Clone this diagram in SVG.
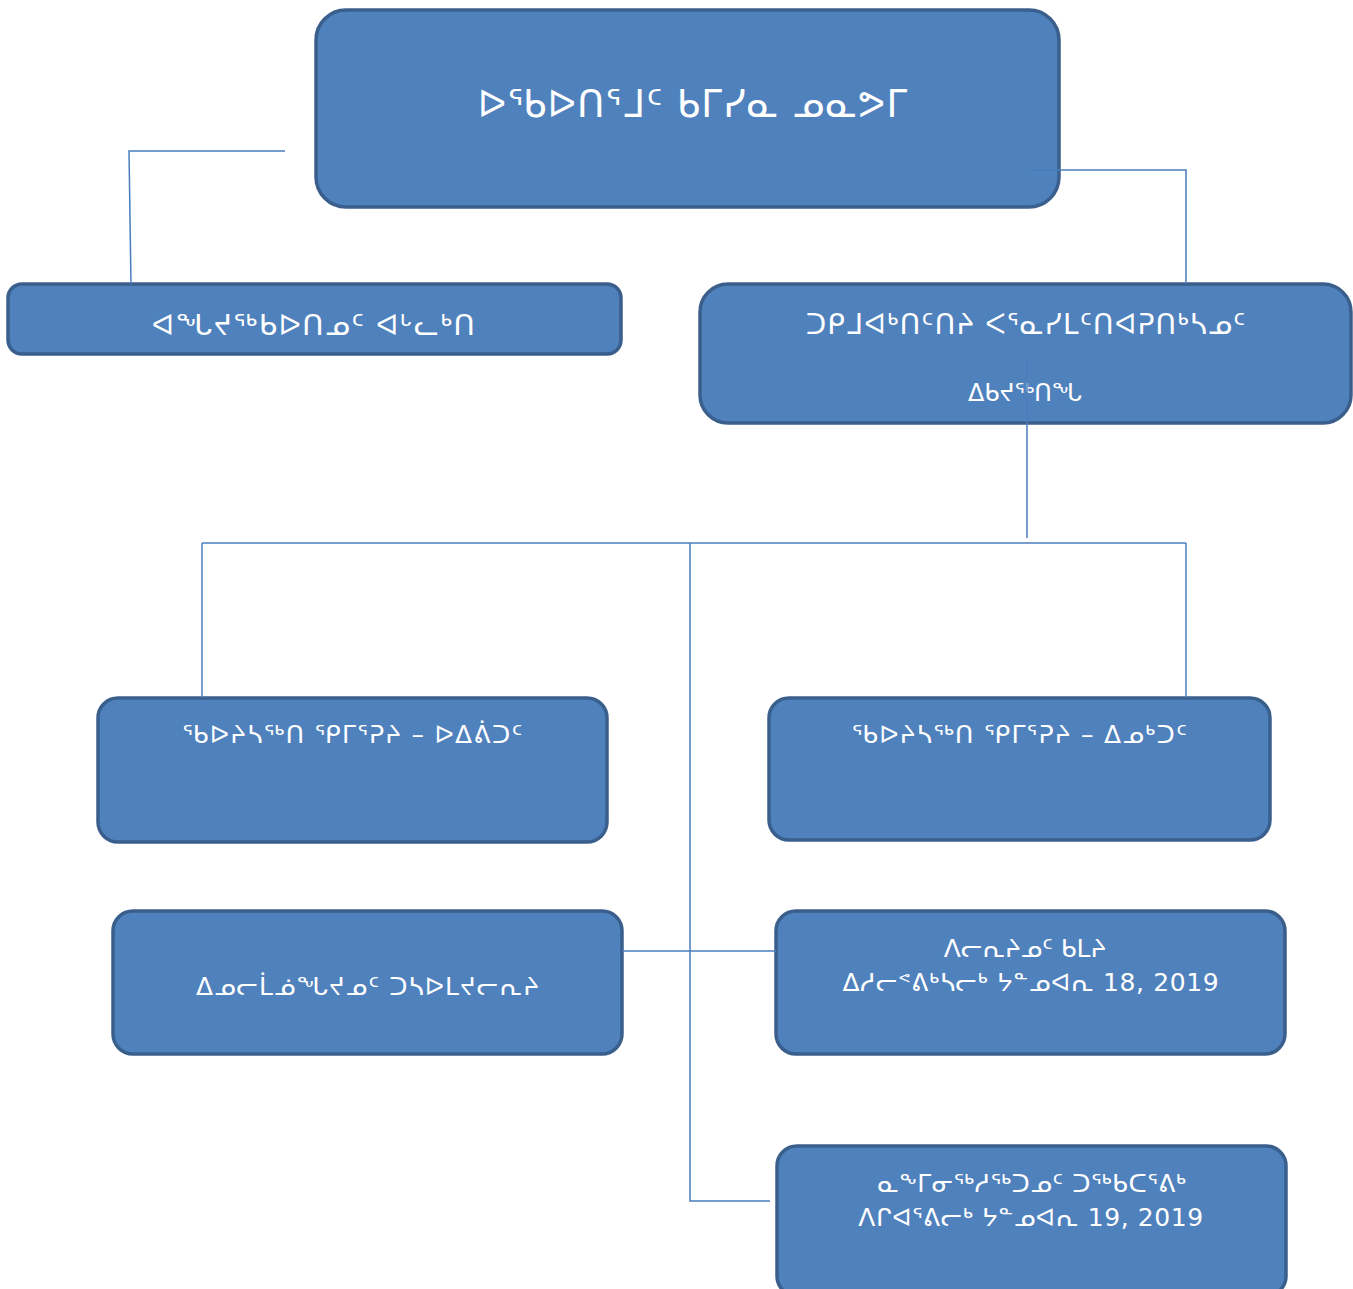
<svg xmlns="http://www.w3.org/2000/svg" width="1353" height="1289" viewBox="0 0 1353 1289">
<style>
.box{fill:#4F81BD;stroke:#3A5F8C;stroke-width:3.5}
.t{font-family:"DejaVu Sans","Liberation Sans",sans-serif;fill:#FFFFFF;text-anchor:middle}
.ln{fill:none;stroke:#4A7EBB;stroke-width:1.5}
</style>
<rect width="1353" height="1289" fill="#FFFFFF"/>
<g id="node-top">
<rect class="box" x="316" y="10" width="743" height="197" rx="30"/>
<text class="t" x="693" y="117" font-size="37" letter-spacing="1.3">ᐅᖃᐅᑎᕐᒧᑦ ᑲᒥᓯᓇ ᓄᓇᕗᒥ</text>
</g>
<g id="node-a">
<rect class="box" x="8" y="284" width="613" height="70" rx="14"/>
<text class="t" x="314" y="335" font-size="29" letter-spacing="1.5">ᐊᖓᔪᖅᑲᐅᑎᓄᑦ ᐊᒡᓚᒃᑎ</text>
</g>
<g id="node-b">
<rect class="box" x="700" y="284" width="651" height="139" rx="28"/>
<text class="t" x="1026" y="334" font-size="28" letter-spacing="1.2">ᑐᑭᒧᐊᒃᑎᑦᑎᔨ ᐸᕐᓇᓯᒪᑦᑎᐊᕈᑎᒃᓴᓄᑦ</text>
<text class="t" x="1025" y="401" font-size="24">ᐃᑲᔪᖅᑎᖓ</text>
</g>
<g id="node-c">
<rect class="box" x="98" y="698" width="509" height="144" rx="20"/>
<text class="t" x="353" y="743" font-size="25" letter-spacing="1.3">ᖃᐅᔨᓴᖅᑎ ᕿᒥᕐᕈᔨ – ᐅᐃᕖᑐᑦ</text>
</g>
<g id="node-d">
<rect class="box" x="769" y="698" width="501" height="142" rx="20"/>
<text class="t" x="1020" y="743" font-size="25" letter-spacing="1.3">ᖃᐅᔨᓴᖅᑎ ᕿᒥᕐᕈᔨ – ᐃᓄᒃᑐᑦ</text>
</g>
<g id="node-e">
<rect class="box" x="113" y="911" width="509" height="143" rx="20"/>
<text class="t" x="368" y="995" font-size="25" letter-spacing="1.1">ᐃᓄᓕᒫᓅᖓᔪᓄᑦ ᑐᓴᐅᒪᔪᓕᕆᔨ</text>
</g>
<g id="node-f">
<rect class="box" x="776" y="911" width="509" height="143" rx="20"/>
<text class="t" x="1025" y="957" font-size="25">ᐱᓕᕆᔨᓄᑦ ᑲᒪᔨ</text>
<text class="t" x="1031" y="991" font-size="25" letter-spacing="0.65">ᐃᓱᓕᕝᕕᒃᓴᓕᒃ ᔭᓐᓄᐊᕆ 18, 2019</text>
</g>
<g id="node-g">
<rect class="box" x="777" y="1146" width="509" height="150" rx="20"/>
<text class="t" x="1032" y="1192" font-size="25" letter-spacing="0.55">ᓇᖕᒥᓂᖅᓱᖅᑐᓄᑦ ᑐᖅᑲᑕᕐᕕᒃ</text>
<text class="t" x="1031" y="1226" font-size="25" letter-spacing="0.6">ᐱᒋᐊᕐᕕᓕᒃ ᔭᓐᓄᐊᕆ 19, 2019</text>
</g>
<g id="connectors">
<polyline class="ln" points="285,151 129,151 131,284"/>
<polyline class="ln" points="1030,170 1186,170 1186,284"/>
<line class="ln" x1="1027" y1="360" x2="1027" y2="538"/>
<line class="ln" x1="202" y1="543" x2="1186" y2="543"/>
<line class="ln" x1="202" y1="543" x2="202" y2="698"/>
<line class="ln" x1="1186" y1="543" x2="1186" y2="698"/>
<polyline class="ln" points="690,543 690,1201 770,1201"/>
<line class="ln" x1="622" y1="951" x2="776" y2="951"/>
</g>
</svg>
